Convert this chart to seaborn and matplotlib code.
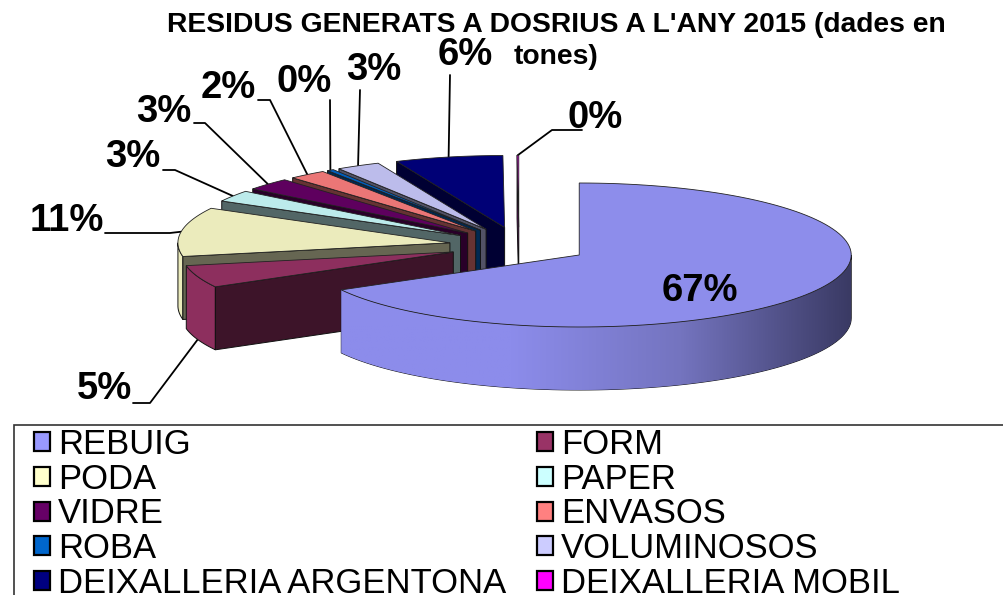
import numpy as np
import seaborn as sns
import matplotlib
matplotlib.use('Agg')
import matplotlib.pyplot as plt
from matplotlib.patches import Polygon, Rectangle, Patch

categories = ['REBUIG', 'FORM', 'PODA', 'PAPER', 'VIDRE', 'ENVASOS', 'ROBA',
              'VOLUMINOSOS', 'DEIXALLERIA ARGENTONA', 'DEIXALLERIA MOBIL']
shares = [66.95, 5.0, 11.0, 2.55, 2.75, 2.25, 0.4, 2.6, 6.4, 0.1]
colors = ['#9999ff', '#993366', '#ffffcc', '#ccffff', '#660066',
          '#ff8080', '#0066cc', '#ccccff', '#000080', '#ff00ff']
title_lines = ["RESIDUS GENERATS A DOSRIUS A L'ANY 2015 (dades en", 'tones)']

# pie layout in pixels
CX, CY = 519, 245.6
RX, RY = 272, 72
THICK = 63
EXPLODE = 0.257

# label centre, then the elbow of the leader line (None for the big slice)
label_pos = [(700, 291), (104, 389), (67, 221), (133, 157), (164, 112),
             (228, 88), (304, 82), (374, 70), (465, 55), (595, 118)]
leader_start = [None, (133, 403), (105, 233), (163, 170), (194, 123),
                (258, 100), (330, 100), (360, 90), (450, 75), (582, 130)]
leader_elbow = [None, (150, 403), (170, 233), (175, 170), (205, 123),
                (270, 100), (330, 100), (360, 90), (450, 75), (552, 130)]

sns.set_theme(style='white')
plt.rcParams['font.family'] = ['Liberation Sans', 'DejaVu Sans']
plt.rcParams['text.color'] = 'black'


def shade(col, k):
    return tuple(c * k for c in sns.color_palette([col])[0])


def rim(apex, deg):
    t = np.radians(deg)
    return np.column_stack([apex[0] + RX * np.sin(t), apex[1] - RY * np.cos(t)])


fig = plt.figure(figsize=(10.04, 5.95), dpi=100)
ax = fig.add_axes([0, 0, 1, 1])

edges = np.concatenate([[0], np.cumsum(shares) / np.sum(shares) * 360])
slices = []
for i in range(len(shares)):
    a0, a1 = edges[i], edges[i + 1]
    mid = np.radians((a0 + a1) / 2)
    apex = (CX + EXPLODE * RX * np.sin(mid), CY - EXPLODE * RY * np.cos(mid))
    slices.append((i, a0, a1, (a0 + a1) / 2, apex))

# back to front, the big slice last
for i, a0, a1, mid, apex in reversed(slices):
    col = colors[i]
    top = shade(col, 0.92)
    dark = shade(col, 0.4)
    z = 10 + (len(shares) - i) * 3

    lo, hi = max(a0, 90), min(a1, 270)
    if hi > lo:
        arc = rim(apex, np.linspace(lo, hi, 80))
        wall = np.vstack([arc, arc[::-1] + [0, THICK]])
        poly = Polygon(wall, closed=True, fc=top, ec='#111111', lw=0.7, zorder=z)
        ax.add_patch(poly)
        if i == 0:
            cmap = sns.blend_palette(['#8c8ceb', '#8c8ceb', '#7474bf', '#3a3a64'], as_cmap=True)
            grad = np.linspace(0, 1, 256).reshape(1, -1)
            im = ax.imshow(grad, cmap=cmap, aspect='auto', zorder=z,
                           extent=[arc[:, 0].min(), arc[:, 0].max(), 400, 250])
            im.set_clip_path(poly)

    if mid > 180:
        p = rim(apex, np.array([a0]))[0]
        face = [apex, p, p + [0, THICK], (apex[0], apex[1] + THICK)]
        ax.add_patch(Polygon(face, closed=True, fc=dark, ec='#111111', lw=0.7, zorder=z + 1))

    pts = np.vstack([[apex], rim(apex, np.linspace(a0, a1, 120))])
    ax.add_patch(Polygon(pts, closed=True, fc=top, ec='#222222', lw=0.6, zorder=z + 2))

    pct = f'{shares[i]:.0f}%'
    ax.text(*label_pos[i], pct, fontsize=27.5, fontweight='bold',
            ha='center', va='center', zorder=60)
    if leader_start[i] is not None:
        end = rim(apex, np.array([mid]))[0]
        if 90 < mid < 270:
            end = end + [0, THICK]
        ax.plot([leader_start[i][0], leader_elbow[i][0], end[0]],
                [leader_start[i][1], leader_elbow[i][1], end[1]],
                color='black', lw=1.3, zorder=5)

ax.text(556, 25, title_lines[0], fontsize=20.3, fontweight='bold', ha='center', va='center', zorder=70)
ax.text(556, 57, title_lines[1], fontsize=20.3, fontweight='bold', ha='center', va='center', zorder=70)

ax.add_patch(Rectangle((14, 425), 1100, 300, fc='white', ec='#333333', lw=1.2, zorder=2))
handles = [Patch(fc=c, ec='black', lw=1.6) for c in colors]
ax.set_xlim(0, 1004)
ax.set_ylim(595, 0)
ax.axis('off')
# legend fills by column, the chart reads by row
ax.legend(handles[0::2] + handles[1::2], categories[0::2] + categories[1::2], ncol=2,
          frameon=False, fontsize=24.9,
          loc='upper left', bbox_to_anchor=(34 / 1004, 1 - 428 / 595), borderaxespad=0,
          borderpad=0, handlelength=0.47, handleheight=0.47, handletextpad=0.22,
          labelspacing=0.05, columnspacing=0.9)

fig.savefig('out.png', dpi=100)
